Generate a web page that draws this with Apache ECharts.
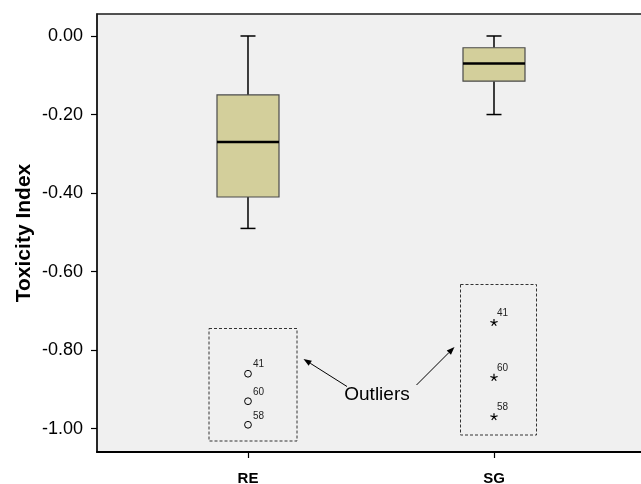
<!DOCTYPE html>
<html><head><meta charset="utf-8">
<script src="https://cdn.jsdelivr.net/npm/echarts@6/dist/echarts.min.js"></script>
<style>html,body{margin:0;padding:0;background:#fff}#c{width:641px;height:484px}</style>
</head><body><div id="c"></div>
<script>
const categories = ['RE', 'SG'];
const whiskerHigh = [0.00, 0.00];
const upperQuartile = [-0.15, -0.03];
const median = [-0.27, -0.07];
const lowerQuartile = [-0.41, -0.115];
const whiskerLow = [-0.49, -0.20];
const outlierRE = [-0.86, -0.93, -0.99];
const outlierSG = [-0.73, -0.87, -0.97];
const outlierIds = ['41', '60', '58'];
const yTicks = [0, -0.2, -0.4, -0.6, -0.8, -1.0];

const boxData = categories.map((c, i) => [i + 1, whiskerHigh[i], upperQuartile[i], median[i], lowerQuartile[i], whiskerLow[i]]);
const outData = [];
outlierRE.forEach((v, j) => outData.push([1, v, outlierIds[j], 0]));
outlierSG.forEach((v, j) => outData.push([2, v, outlierIds[j], 1]));

function renderBox(params, api) {
  const x = api.value(0);
  const hi = api.coord([x, api.value(1)]);
  const q3 = api.coord([x, api.value(2)]);
  const md = api.coord([x, api.value(3)]);
  const q1 = api.coord([x, api.value(4)]);
  const lo = api.coord([x, api.value(5)]);
  const hw = 31, cw = 7.5;
  const ls = { stroke: '#000', lineWidth: 1.5 };
  return { type: 'group', children: [
    { type: 'line', shape: { x1: hi[0], y1: hi[1], x2: q3[0], y2: q3[1] }, style: ls },
    { type: 'line', shape: { x1: q1[0], y1: q1[1], x2: lo[0], y2: lo[1] }, style: ls },
    { type: 'line', shape: { x1: hi[0] - cw, y1: hi[1], x2: hi[0] + cw, y2: hi[1] }, style: ls },
    { type: 'line', shape: { x1: lo[0] - cw, y1: lo[1], x2: lo[0] + cw, y2: lo[1] }, style: ls },
    { type: 'rect', shape: { x: q3[0] - hw, y: q3[1], width: 2 * hw, height: q1[1] - q3[1] }, style: { fill: '#d3cf9b', stroke: '#4a4a4a', lineWidth: 1.2 } },
    { type: 'line', shape: { x1: md[0] - hw, y1: md[1], x2: md[0] + hw, y2: md[1] }, style: { stroke: '#000', lineWidth: 2.5 } }
  ]};
}

function renderOutlier(params, api) {
  const p = api.coord([api.value(0), api.value(1)]);
  const kind = api.value(3);
  const id = outData[params.dataIndex][2];
  const children = [];
  if (kind === 0) {
    children.push({ type: 'circle', shape: { cx: p[0], cy: p[1], r: 3.4 }, style: { fill: 'none', stroke: '#000', lineWidth: 1 } });
    children.push({ type: 'text', x: p[0] + 5, y: p[1] - 9, style: { text: id, fill: '#222', font: '10px "Liberation Sans", Arial, sans-serif', verticalAlign: 'middle', align: 'left' } });
  } else {
    const r = 3.8;
    for (let k = 0; k < 5; k++) {
      const a = -Math.PI / 2 + k * 2 * Math.PI / 5;
      children.push({ type: 'line', shape: { x1: p[0], y1: p[1], x2: p[0] + r * Math.cos(a), y2: p[1] + r * Math.sin(a) }, style: { stroke: '#000', lineWidth: 1.2 } });
    }
    children.push({ type: 'text', x: p[0] + 3, y: p[1] - 9.5, style: { text: id, fill: '#222', font: '10px "Liberation Sans", Arial, sans-serif', verticalAlign: 'middle', align: 'left' } });
  }
  return { type: 'group', children };
}

function arrow(x1, y1, x2, y2) {
  const a = Math.atan2(y2 - y1, x2 - x1);
  const L = 8, W = 3;
  const bx = x2 - L * Math.cos(a), by = y2 - L * Math.sin(a);
  return [
    { type: 'line', shape: { x1, y1, x2: bx, y2: by }, style: { stroke: '#000', lineWidth: 1 } },
    { type: 'polygon', shape: { points: [[x2, y2], [bx + W * Math.sin(a), by - W * Math.cos(a)], [bx - W * Math.sin(a), by + W * Math.cos(a)]] }, style: { fill: '#000' } }
  ];
}

const chart = echarts.init(document.getElementById('c'), null, { renderer: 'canvas' });
chart.setOption({
  animation: false,
  backgroundColor: '#fff',
  textStyle: { fontFamily: '"Liberation Sans", Arial, sans-serif' },
  grid: { left: 97, top: 14, right: -2, bottom: 32, outerBoundsMode: 'none', containLabel: false, show: true, backgroundColor: '#f0f0f0', borderColor: '#1a1a1a', borderWidth: 1.5 },
  xAxis: {
    type: 'value', min: 0.3862, max: 2.6057,
    splitLine: { show: false },
    axisLine: { show: true, onZero: false, lineStyle: { color: '#000', width: 2 } },
    axisTick: { show: true, length: 6, customValues: [1, 2], lineStyle: { color: '#000', width: 1.2 } },
    axisLabel: { customValues: [1, 2], formatter: v => categories[Math.round(v) - 1], margin: 19, fontSize: 15, fontWeight: 'bold', color: '#000' }
  },
  yAxis: {
    type: 'value', min: -1.0593, max: 0.056,
    name: 'Toxicity Index', nameLocation: 'middle', nameGap: 62, nameMoveOverlap: false,
    nameTextStyle: { fontSize: 21, fontWeight: 'bold', color: '#000' },
    splitLine: { show: false },
    axisLine: { show: true, onZero: false, lineStyle: { color: '#1a1a1a', width: 1.5 } },
    axisTick: { show: true, length: 6, customValues: yTicks, lineStyle: { color: '#000', width: 1.2 } },
    axisLabel: { customValues: yTicks, formatter: v => v.toFixed(2), margin: 14, fontSize: 18, color: '#000' }
  },
  graphic: [
    { type: 'rect', shape: { x: 209, y: 328.5, width: 88, height: 112.5 }, style: { fill: 'none', stroke: '#333', lineWidth: 1, lineDash: [3, 2] }, z: 10 },
    { type: 'rect', shape: { x: 460.5, y: 284.5, width: 76, height: 150.5 }, style: { fill: 'none', stroke: '#333', lineWidth: 1, lineDash: [3, 2] }, z: 10 },
    ...arrow(347, 386.5, 303.5, 359).map(o => Object.assign(o, { z: 10 })),
    ...arrow(416.5, 385, 454.5, 347).map(o => Object.assign(o, { z: 10 })),
    { type: 'text', x: 377, y: 395, z: 10, style: { text: 'Outliers', font: '19px "Liberation Sans", Arial, sans-serif', fill: '#000', align: 'center', verticalAlign: 'middle' } }
  ],
  series: [
    { type: 'custom', renderItem: renderBox, data: boxData, clip: false, z: 3 },
    { type: 'custom', renderItem: renderOutlier, data: outData, clip: false, z: 4 }
  ]
});
</script>
</body></html>
